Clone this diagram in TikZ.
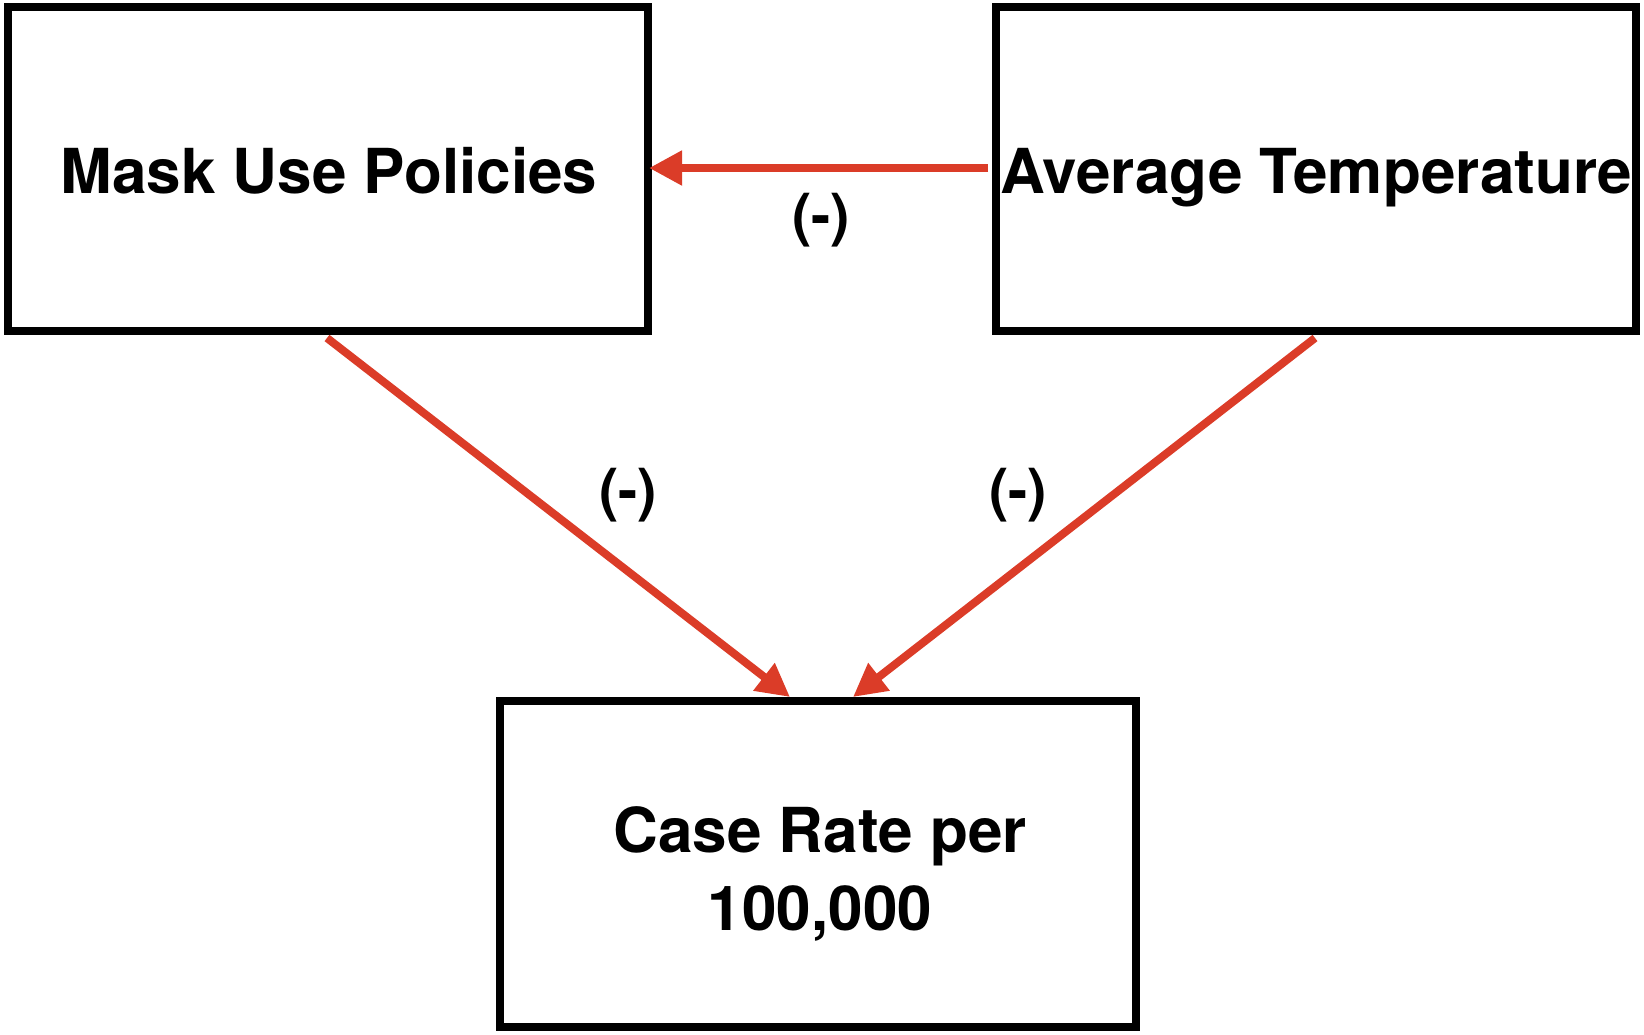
\documentclass[tikz,border=0pt]{standalone}
\usepackage{fontspec}
\setmainfont{TeX Gyre Heros}
\usetikzlibrary{arrows.meta,calc}
\definecolor{arrred}{RGB}{219,60,40}
\begin{document}
\begin{tikzpicture}[x=1pt,y=-1pt,
  boxnode/.style={draw=black,line width=8pt,minimum width=640pt,minimum height=324pt,inner sep=0pt,outer sep=0pt},
  bigtxt/.style={font=\fontsize{62}{78}\selectfont\bfseries,inner sep=0pt,anchor=base},
  signtxt/.style={font=\fontsize{58}{70}\selectfont\bfseries,inner sep=0pt,anchor=base},
  redarrow/.style={draw=arrred,line width=8pt,-{Triangle[length=33pt,width=33pt]}}]
\useasboundingbox (0,0) rectangle (1644,1034);
\node[boxnode] (mask) at (328,169) {};
\node[boxnode] (avg) at (1316,169) {};
\node[boxnode,minimum width=636pt,minimum height=326pt] (case) at (818,864) {};
\node[bigtxt] (masktxt) at (329,193) {Mask Use Policies};
\node[bigtxt] (avgtxt) at (1316,193) {Average Temperature};
\node[bigtxt] (casetxt) at (820,852) {\begin{tabular}[t]{@{}c@{}}Case Rate per\\100,000\end{tabular}};
\draw[redarrow] ($(avg.west)+(-8,-1)$) -- ($(mask.east)+(1,-1)$);
\draw[redarrow] ($(mask.south)+(-1,7)$) -- ($(case.north)+(-28,-4)$);
\draw[redarrow] ($(avg.south)+(-1,7)$) -- ($(case.north)+(35,-4)$);
\node[signtxt] (s1) at (821,235) {(-)};
\node[signtxt] (s2) at (628,510) {(-)};
\node[signtxt] (s3) at (1018,510) {(-)};
\end{tikzpicture}
\end{document}
